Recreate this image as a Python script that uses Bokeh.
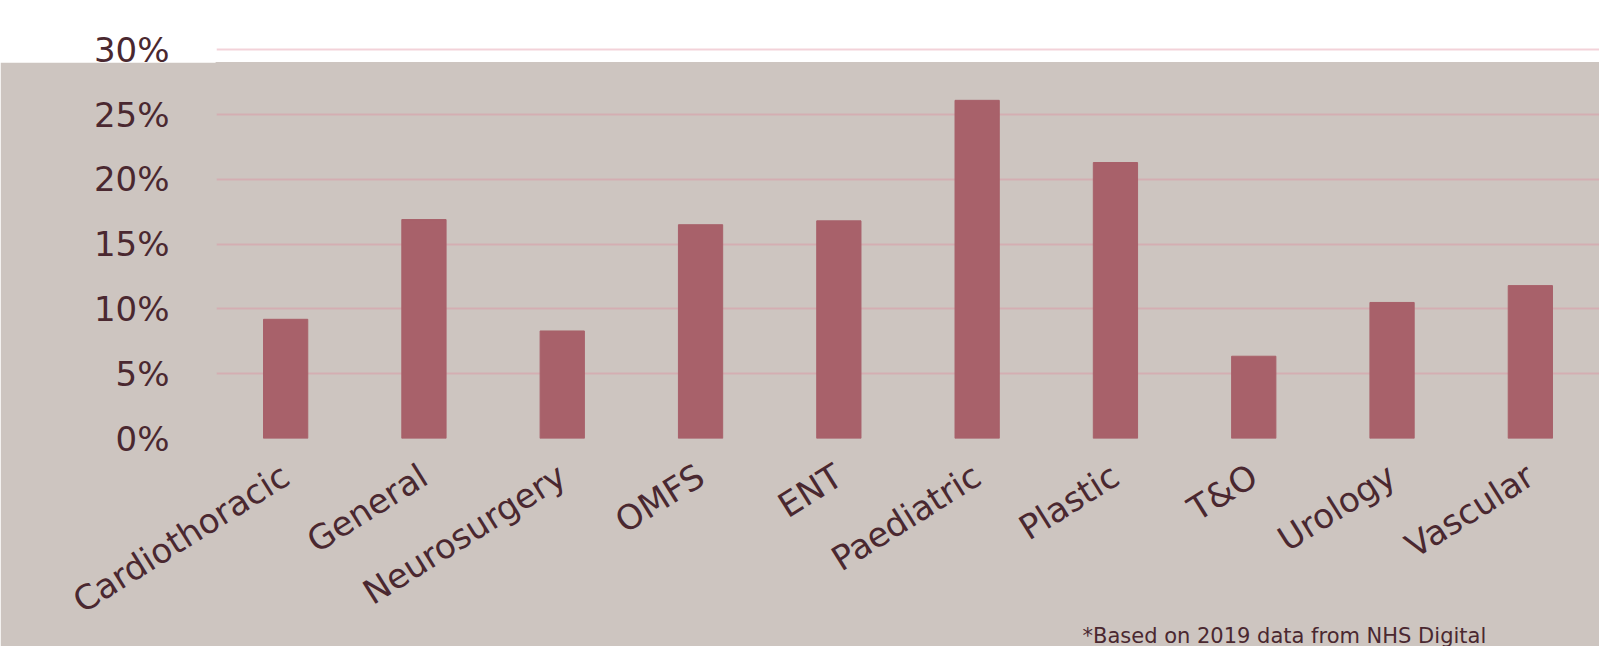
from bokeh.plotting import figure
from bokeh.layouts import column
from bokeh.models import FactorRange, Range1d, FixedTicker, Title, PrintfTickFormatter
from bokeh.embed import file_html
from bokeh.resources import INLINE

categories = ["Cardiothoracic", "General", "Neurosurgery", "OMFS", "ENT",
              "Paediatric", "Plastic", "T&O", "Urology", "Vascular"]
values = [9.2, 16.9, 8.3, 16.5, 16.8, 26.1, 21.3, 6.35, 10.5, 11.8]
y_ticks = [0, 5, 10, 15, 20, 25, 30]
footnote = "*Based on 2019 data from NHS Digital"

BEIGE = "#cdc5c0"
BAR = "#a8616a"
TEXT = "#4a2830"
FONT = "DejaVu Sans"
GRID = "#e0889a"

x_range = FactorRange(*categories)
SPLIT = 29.02   # value at the edge between the white band and the beige area
TOP_H = 100     # height of the white band figure (its lower part is overlapped)
OVERLAP = 38


def style(fig, bg):
    fig.background_fill_color = bg
    fig.border_fill_color = bg
    fig.outline_line_color = bg
    fig.outline_line_width = 2
    fig.xgrid.grid_line_color = None
    fig.ygrid.ticker = FixedTicker(ticks=y_ticks)
    fig.ygrid.grid_line_color = GRID
    fig.ygrid.grid_line_alpha = 0.38
    fig.ygrid.grid_line_width = 2
    fig.yaxis.ticker = FixedTicker(ticks=y_ticks)
    fig.yaxis.formatter = PrintfTickFormatter(format="%d%%")
    for ax in fig.axis:
        ax.axis_line_color = None
        ax.major_tick_line_color = None
        ax.minor_tick_line_color = None
        ax.major_label_text_font = FONT
        ax.major_label_text_color = TEXT
        ax.major_label_text_font_size = "34px"
    fig.yaxis.major_label_standoff = 41


# top white band (holds the 30% line)
top = figure(x_range=x_range, y_range=Range1d(26.08, 33.81),
             frame_width=1383, frame_height=TOP_H,
             min_border_left=216, min_border_right=0, min_border_top=0, min_border_bottom=0,
             output_backend="svg", toolbar_location=None)
top.xaxis.visible = False
style(top, "white")

# main beige chart
p = figure(x_range=x_range, y_range=Range1d(0, SPLIT),
           frame_width=1383, frame_height=376,
           min_border_left=216, min_border_right=0, min_border_top=0, min_border_bottom=208,
           output_backend="svg", toolbar_location=None)
p.margin = (-OVERLAP, 0, 0, 0)
p.vbar(x=categories, top=values, width=0.32, color=BAR, line_color=BAR)
style(p, BEIGE)
p.xaxis.major_label_orientation = 0.56
p.xaxis.major_label_standoff = 28

note = Title(text=footnote, align="left", offset=866, standoff=-34,
             vertical_align="top",
             text_font=FONT, text_font_size="21px", text_color=TEXT,
             text_font_style="normal")
p.add_layout(note, "below")

layout = column(top, p, spacing=0)
open("out.html", "w").write(file_html(layout, INLINE))
